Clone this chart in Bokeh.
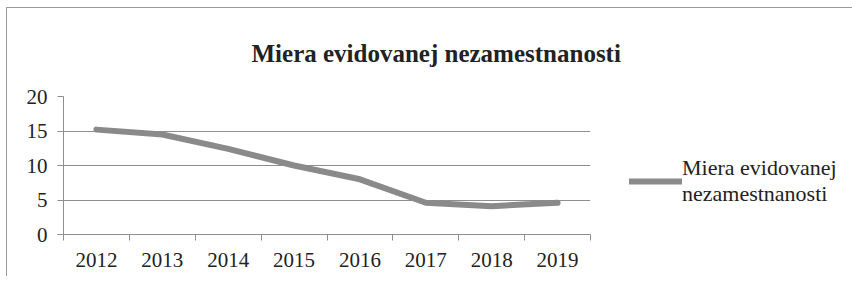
from bokeh.plotting import figure
from bokeh.models import (ColumnDataSource, FixedTicker, Range1d, Legend, LegendItem, Title)
from bokeh.embed import file_html
from bokeh.resources import INLINE

# ---- data ----
years = ["2012", "2013", "2014", "2015", "2016", "2017", "2018", "2019"]
rate = [15.2, 14.5, 12.4, 10.0, 8.0, 4.6, 4.1, 4.6]
y_ticks = [0, 5, 10, 15, 20]
series_name = "Miera evidovanej\nnezamestnanosti"
title_text = "Miera evidovanej nezamestnanosti"

FONT = "Liberation Serif"
TXT = "#222222"
GRID = "#8e8e8e"
LINE = "#8a8a8a"

xpos = [i + 0.5 for i in range(len(years))]
src = ColumnDataSource(dict(x=xpos, y=rate, year=years))

p = figure(frame_width=527, frame_height=138, output_backend="svg", toolbar_location=None,
           x_range=Range1d(0, len(years)), y_range=Range1d(0, 20),
           min_border_left=56, min_border_right=250, min_border_top=88, min_border_bottom=42)
p.styles = {"border-left": "1px solid #9a9a9a", "border-top": "1px solid #9a9a9a",
            "margin-top": "7px", "margin-left": "6px"}
p.outline_line_color = None
p.background_fill_color = "white"
p.border_fill_color = "white"

r = p.line("x", "y", source=src, line_width=6, line_color=LINE, line_join="round", line_cap="round")

# x axis: labels at category centres, tick marks between categories
xa = p.xaxis[0]
xa.ticker = FixedTicker(ticks=xpos, minor_ticks=list(range(len(years) + 1)))
xa.major_label_overrides = {x: y for x, y in zip(xpos, years)}
xa.major_tick_in = 0
xa.major_tick_out = 0
xa.minor_tick_in = 0
xa.minor_tick_out = 6
xa.minor_tick_line_color = GRID
xa.axis_line_color = GRID
xa.major_label_standoff = 12
xa.major_label_text_font = FONT
xa.major_label_text_font_size = "21px"
xa.major_label_text_color = TXT

ya = p.yaxis[0]
ya.ticker = FixedTicker(ticks=y_ticks, minor_ticks=[])
ya.major_tick_in = 0
ya.major_tick_out = 6
ya.major_tick_line_color = GRID
ya.axis_line_color = GRID
ya.major_label_standoff = 10
ya.major_label_text_font = FONT
ya.major_label_text_font_size = "21px"
ya.major_label_text_color = TXT

p.xgrid.visible = False
p.ygrid.grid_line_color = GRID
p.ygrid.grid_line_width = 1

p.title = Title(text=title_text, align="left", offset=188, text_font=FONT,
                text_font_size="25px", text_font_style="bold", text_color=TXT, standoff=59)

legend = Legend(items=[LegendItem(label=series_name, renderers=[r])],
                location=(39, 27), padding=0, margin=0, border_line_color=None,
                background_fill_alpha=0, glyph_width=53, label_standoff=0,
                label_text_font=FONT, label_text_font_size="22px", label_text_color=TXT,
                label_text_line_height=0.95)
p.add_layout(legend, "right")

open("out.html", "w").write(file_html(p, INLINE))
